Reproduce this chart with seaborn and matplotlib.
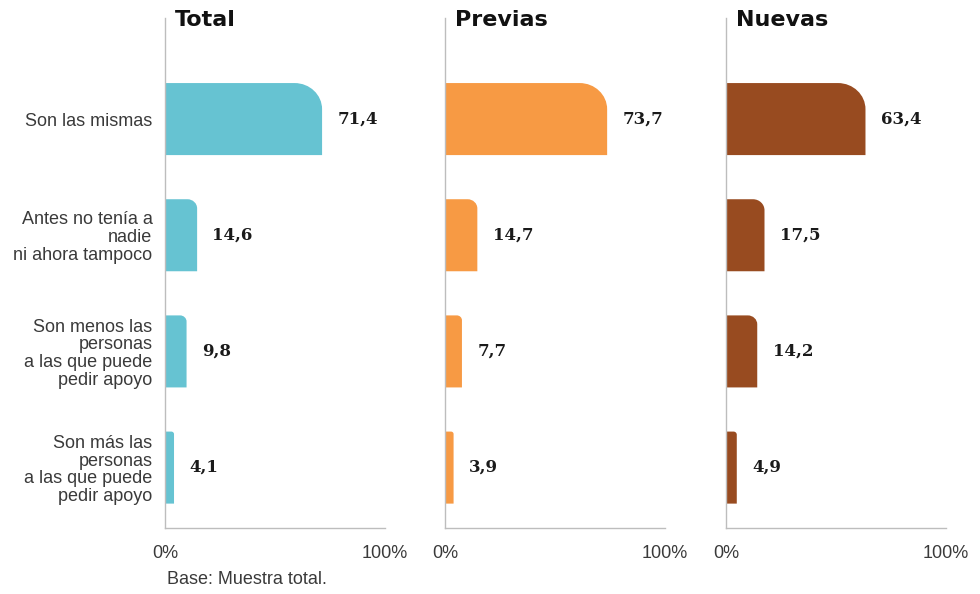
"""
Recreate the three-panel horizontal bar chart (Total / Previas / Nuevas).
"""

import matplotlib
matplotlib.use('Agg')
import matplotlib.pyplot as plt
import numpy as np
import pandas as pd
import seaborn as sns
from matplotlib.path import Path as MPath
from matplotlib.patches import PathPatch

categories = [
    "Son las mismas",
    "Antes no tenía a\nnadie\nni ahora tampoco",
    "Son menos las\npersonas\na las que puede\npedir apoyo",
    "Son más las\npersonas\na las que puede\npedir apoyo",
]
panel_titles = ["Total", "Previas", "Nuevas"]
total = [71.4, 14.6, 9.8, 4.1]
previas = [73.7, 14.7, 7.7, 3.9]
nuevas = [63.4, 17.5, 14.2, 4.9]
colors = ["#66C3D2", "#F79A44", "#984B20"]
tick_labels = ["0%", "100%"]

sns.set_style('white')
plt.rcParams['font.family'] = ['Liberation Sans', 'DejaVu Sans']

GRID = '#BDBDBD'
TEXT = '#3A3A3A'
K = 0.5523  # bezier constant for a quarter circle


def round_bars(ax, r_max=12.5, ry_per_rx=0.018):
    """Swap each bar for a path with a rounded top-right corner."""
    for bar in list(ax.patches):
        x0 = bar.get_x()
        w = bar.get_width()
        y0 = bar.get_y()
        h = bar.get_height()
        x1 = x0 + w
        y1 = y0 + h
        rx = min(r_max, w * 0.3)
        ry = rx * ry_per_rx
        verts = [(x0, y0), (x1 - rx, y0),
                 (x1 - rx + K * rx, y0), (x1, y0 + ry - K * ry), (x1, y0 + ry),
                 (x1, y1), (x0, y1), (x0, y0)]
        codes = [MPath.MOVETO, MPath.LINETO,
                 MPath.CURVE4, MPath.CURVE4, MPath.CURVE4,
                 MPath.LINETO, MPath.LINETO, MPath.CLOSEPOLY]
        patch = PathPatch(MPath(verts, codes), facecolor=bar.get_facecolor(),
                          edgecolor='none', lw=0)
        bar.remove()
        ax.add_patch(patch)


fig = plt.figure(figsize=(9.8, 5.94), dpi=100)
lefts = [165 / 980, 445 / 980, 726 / 980]
series = [total, previas, nuevas]

for i, (left, vals, col, title) in enumerate(zip(lefts, series, colors, panel_titles)):
    ax = fig.add_axes([left, 66 / 594, 220 / 980, 510 / 594])
    df = pd.DataFrame({'cat': categories, 'val': vals})
    sns.barplot(data=df, x='val', y='cat', color=col, width=0.62,
                saturation=1, ax=ax)
    ax.set_xlim(0, 100)
    ax.set_ylim(3.52, -0.87)
    round_bars(ax)

    for j, v in enumerate(vals):
        ax.annotate(f'{v:.1f}'.replace('.', ','), xy=(v, j), xytext=(11, 0),
                    textcoords='offset points', va='center', ha='left',
                    fontsize=12, fontweight='bold', family='DejaVu Serif',
                    color='#1A1A1A')

    ax.text(0.045, 0.996, title, transform=ax.transAxes, fontsize=16,
            fontweight='bold', family='DejaVu Sans', va='center', ha='left',
            color='#111111')

    ax.set_xlabel('')
    ax.set_ylabel('')
    ax.set_xticks([0, 100])
    ax.set_xticklabels(tick_labels)
    ax.tick_params(axis='x', length=0, pad=12, labelsize=13, labelcolor=TEXT)
    if i == 0:
        ax.tick_params(axis='y', length=0, pad=9, labelsize=13, labelcolor=TEXT)
        for lab in ax.get_yticklabels():
            lab.set_linespacing(1.06)
    else:
        ax.set_yticklabels([])
        ax.tick_params(axis='y', length=0)

    for side in ['top', 'right']:
        ax.spines[side].set_visible(False)
    for side in ['left', 'bottom']:
        ax.spines[side].set_color(GRID)
        ax.spines[side].set_linewidth(1.0)

fig.text(167 / 980, 1 - 580 / 594, 'Base: Muestra total.', fontsize=13,
         color=TEXT, va='center', ha='left')

fig.savefig('out.png', dpi=100)
